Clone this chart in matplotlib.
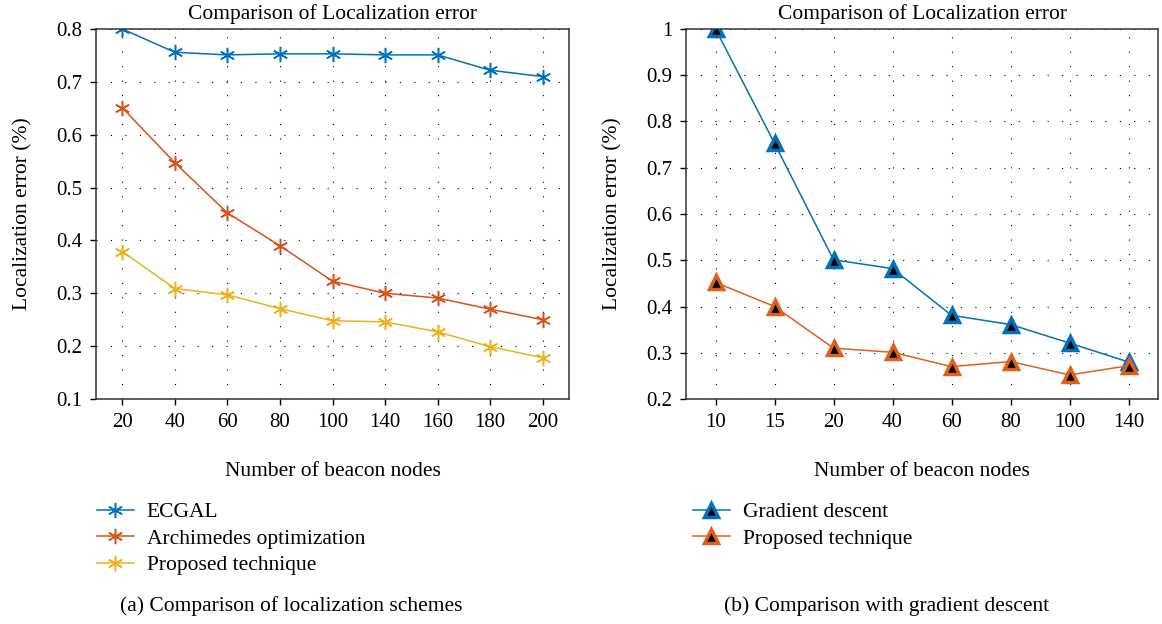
import matplotlib
matplotlib.use("Agg")
import matplotlib.pyplot as plt
import numpy as np

plt.rcParams['font.family'] = ['Liberation Serif', 'DejaVu Serif']
plt.rcParams['font.size'] = 15.5

# (a) localization schemes
nodes_a = ["20", "40", "60", "80", "100", "140", "160", "180", "200"]
ecgal = [0.800, 0.756, 0.751, 0.753, 0.753, 0.751, 0.751, 0.722, 0.710]
archimedes = [0.651, 0.547, 0.452, 0.390, 0.323, 0.300, 0.291, 0.270, 0.250]
proposed_a = [0.379, 0.309, 0.297, 0.271, 0.248, 0.246, 0.227, 0.199, 0.178]

# (b) gradient descent
nodes_b = ["10", "15", "20", "40", "60", "80", "100", "140"]
gradient = [1.000, 0.753, 0.501, 0.482, 0.381, 0.361, 0.321, 0.280]
proposed_b = [0.452, 0.400, 0.310, 0.301, 0.270, 0.281, 0.252, 0.272]

blue = "#0072BD"
red = "#D95319"
yellow = "#EDB120"
orange = "#E0601A"

W, H = 1162, 624
fig = plt.figure(figsize=(W / 100, H / 100), dpi=100)

ax1 = fig.add_axes([96 / W, 1 - 399 / H, 473 / W, 370 / H])
ax2 = fig.add_axes([686 / W, 1 - 399 / H, 472 / W, 370 / H])

star = (6, 2, 0)
xa = np.arange(len(nodes_a))
ax1.plot(xa, ecgal, color=blue, lw=1.1, marker=star, ms=11, mew=1.1, label="ECGAL")
ax1.plot(xa, archimedes, color=red, lw=1.1, marker=star, ms=11, mew=1.1, label="Archimedes optimization")
ax1.plot(xa, proposed_a, color=yellow, lw=1.1, marker=star, ms=11, mew=1.1, label="Proposed technique")
ax1.set_xlim(-0.5, len(nodes_a) - 0.5)
ax1.set_ylim(0.1, 0.8)
ax1.set_xticks(xa)
ax1.set_xticklabels(nodes_a)
ax1.set_yticks(np.arange(0.1, 0.81, 0.1))

xb = np.arange(len(nodes_b))
ax2.plot(xb, gradient, color=blue, lw=1.1, marker="^", ms=10, mfc="black", mec=blue, mew=2.5,
         label="Gradient descent")
ax2.plot(xb, proposed_b, color=orange, lw=1.1, marker="^", ms=10, mfc="black", mec=orange, mew=2.5,
         label="Proposed technique")
ax2.set_xlim(-0.5, len(nodes_b) - 0.5)
ax2.set_ylim(0.2, 1.0)
ax2.set_xticks(xb)
ax2.set_xticklabels(nodes_b)
ax2.set_yticks(np.arange(0.2, 1.01, 0.1))

for ax in (ax1, ax2):
    ax.yaxis.set_major_formatter(matplotlib.ticker.FormatStrFormatter('%g'))
    ax.grid(True, color="black", lw=0.8, linestyle=(0, (1, 12)))
    ax.set_axisbelow(True)
    for s in ax.spines.values():
        s.set_linewidth(1.1)
        s.set_color("#333333")
    ax.tick_params(direction="out", length=4, width=1, labelsize=15, pad=6)
    ax.set_title("Comparison of Localization error", fontsize=15.5, pad=7)
    ax.set_xlabel("Number of beacon nodes", fontsize=15.5, labelpad=22)
    ax.set_ylabel("Localization error (%)", fontsize=15.5, labelpad=17)

leg_kw = dict(loc="upper left", bbox_transform=fig.transFigure, frameon=False, borderpad=0,
              borderaxespad=0, handlelength=1.7, handletextpad=0.6, labelspacing=0.3, fontsize=15.5)
ax1.legend(bbox_to_anchor=(97 / W, 1 - 502 / H), **leg_kw)
ax2.legend(bbox_to_anchor=(693 / W, 1 - 502 / H), **leg_kw)

fig.text(291 / W, 1 - 606 / H, "(a) Comparison of localization schemes", ha="center", va="center", fontsize=15.5)
fig.text(887 / W, 1 - 606 / H, "(b) Comparison with gradient descent", ha="center", va="center", fontsize=15.5)

fig.savefig("out.png", dpi=100)
